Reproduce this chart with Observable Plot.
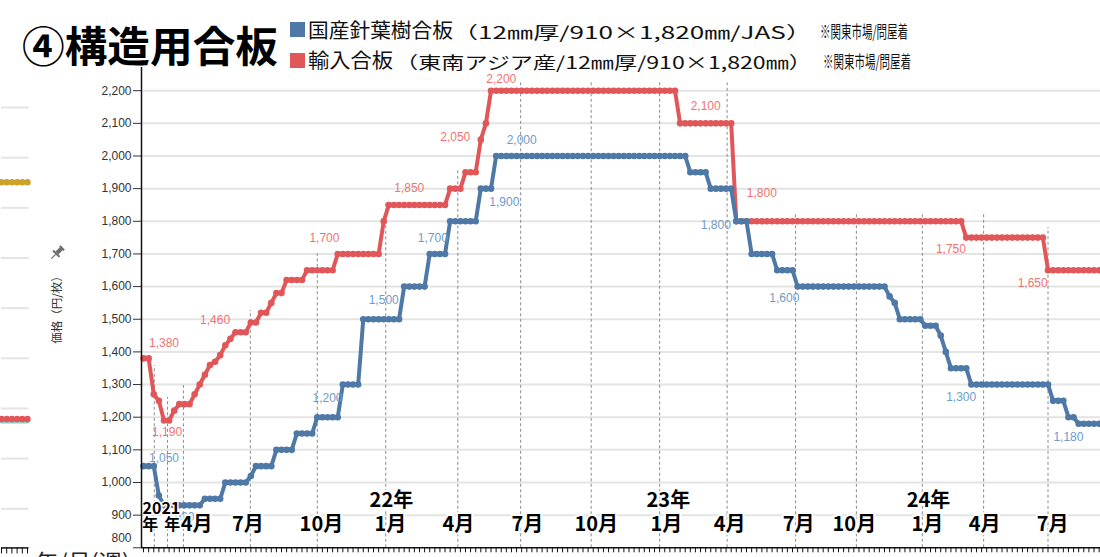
<!DOCTYPE html>
<html><head><meta charset="utf-8">
<script src="https://cdn.jsdelivr.net/npm/d3@7"></script>
<script src="https://cdn.jsdelivr.net/npm/@observablehq/plot@0.6"></script>
<style>
body{margin:0;background:#fff;font-family:"Noto Sans CJK JP","Noto Sans",sans-serif;}
#wrap{position:relative;width:1100px;height:557px;overflow:hidden;}
#wrap svg{position:absolute;left:0;top:0;}
.t{position:absolute;white-space:nowrap;transform-origin:0 50%;line-height:1;color:#111;}
.sq{position:absolute;width:15px;height:15px;}
</style></head><body><div id="wrap"></div>
<script>
// ---- data (weekly index) ----
const domestic = [
1050,1050,1050,960,930,930,930,930,930,930,930,930,950,950,950,950,1000,1000,1000,1000,
1000,1020,1050,1050,1050,1050,1100,1100,1100,1100,1150,1150,1150,1150,1200,1200,1200,1200,1200,1300,
1300,1300,1300,1500,1500,1500,1500,1500,1500,1500,1500,1600,1600,1600,1600,1600,1700,1700,1700,1700,
1800,1800,1800,1800,1800,1800,1900,1900,1900,2000,2000,2000,2000,2000,2000,2000,2000,2000,2000,2000,
2000,2000,2000,2000,2000,2000,2000,2000,2000,2000,2000,2000,2000,2000,2000,2000,2000,2000,2000,2000,
2000,2000,2000,2000,2000,2000,2000,1950,1950,1950,1950,1900,1900,1900,1900,1900,1800,1800,1800,1700,
1700,1700,1700,1700,1650,1650,1650,1650,1600,1600,1600,1600,1600,1600,1600,1600,1600,1600,1600,1600,
1600,1600,1600,1600,1600,1600,1570,1550,1500,1500,1500,1500,1500,1480,1480,1480,1450,1400,1350,1350,
1350,1350,1300,1300,1300,1300,1300,1300,1300,1300,1300,1300,1300,1300,1300,1300,1300,1300,1250,1250,
1250,1200,1200,1180,1180,1180,1180,1180];
const imported = [
1380,1380,1270,1250,1190,1190,1220,1240,1240,1240,1270,1300,1330,1360,1370,1390,1420,1440,1460,1460,
1460,1490,1490,1520,1520,1550,1580,1580,1620,1620,1620,1620,1650,1650,1650,1650,1650,1650,1700,1700,
1700,1700,1700,1700,1700,1700,1700,1800,1850,1850,1850,1850,1850,1850,1850,1850,1850,1850,1850,1850,
1900,1900,1900,1950,1950,1950,2050,2100,2200,2200,2200,2200,2200,2200,2200,2200,2200,2200,2200,2200,
2200,2200,2200,2200,2200,2200,2200,2200,2200,2200,2200,2200,2200,2200,2200,2200,2200,2200,2200,2200,
2200,2200,2200,2200,2200,2100,2100,2100,2100,2100,2100,2100,2100,2100,2100,2100,1800,1800,1800,1800,
1800,1800,1800,1800,1800,1800,1800,1800,1800,1800,1800,1800,1800,1800,1800,1800,1800,1800,1800,1800,
1800,1800,1800,1800,1800,1800,1800,1800,1800,1800,1800,1800,1800,1800,1800,1800,1800,1800,1800,1800,
1800,1750,1750,1750,1750,1750,1750,1750,1750,1750,1750,1750,1750,1750,1750,1750,1750,1650,1650,1650,
1650,1650,1650,1650,1650,1650,1650,1650];

const domesticLabelWeeks  = [4, 8, 36, 47, 57, 71, 74, 112, 125, 160, 181];
const domesticLabelValues = [1050, 930, 1200, 1500, 1700, 1900, 2000, 1800, 1600, 1300, 1180];
const importedLabelWeeks  = [4, 5, 14, 35, 52, 61, 70, 110, 121, 158, 174];
const importedLabelValues = [1380, 1190, 1460, 1700, 1850, 2050, 2200, 2100, 1800, 1750, 1650];

const guideWeeks = [2.1, 4.7, 7.8, 20.9, 34, 47.4, 61.5, 73.8, 87.6, 101, 114.2, 127.6, 139.5, 152.4, 164.4, 177];
const guideTops  = [1358, 1260, 1297, 1527, 1701, 1858, 1962, 2231, 2231, 2231, 2231, 1824, 1824, 1824, 1824, 1781];

const monthLabels = ["4月","7月","10月","1月","4月","7月","10月","1月","4月","7月","10月","1月","4月","7月"];
const monthWeeks  = [10.4, 20.4, 34.8, 48.3, 61.6, 75.1, 88.6, 102.3, 114.7, 128.2, 139.1, 153.4, 164.6, 177.9];
const yearLabels = ["22年","23年","24年"];
const yearWeeks  = [48.5, 102.7, 153.6];
const startYearLabel = "2021", startYearWeek = 3.5;
const startNenWeeks = [1.3, 5.6];

const yTicks = [800,900,1000,1100,1200,1300,1400,1500,1600,1700,1800,1900,2000,2100,2200];

// fragment of the neighbouring chart visible at the left edge (its own units)
const neighborGrid = [0, 1, 2, 3, 4, 5, 6, 7, 8];
const neighborSteps = [0, 1, 2, 3, 4, 5];
const neighborGold = [6.51, 6.51, 6.51, 6.51, 6.51, 6.51];
const neighborRed  = [1.79, 1.79, 1.79, 1.79, 1.79, 1.79];
const neighborTeal = [1.74, 1.74, 1.74, 1.74, 1.74, 1.74];

// ---- styles / offsets ----
const BLUE = "#4e79a7", RED = "#e15759", BLUE_LBL = "#6f9bcb", RED_LBL = "#ef7470";
const domesticLabelOffsets = [[0,-8],[0,12],[0,-19],[0,-19],[-2,-16],[-2,14],[0,-16],[0,4],[2,12],[0,13],[0,13]];
const importedLabelOffsets = [[0,-15],[-2,12],[0,-12],[2,-16],[0,-17],[0,-3],[0,-12],[0,-17],[0,-28],[0,12],[0,13]];

const fmt = d3.format(",");
const weeks = domestic.map((_, i) => i);
const domRows = domestic.map((value, week) => ({week, value}));
const impRows = imported.map((value, week) => ({week, value}));
const guideRows = guideWeeks.map((week, i) => ({week, top: guideTops[i]}));
const lastWeek = weeks.length - 1;

const CJK = "'Noto Sans CJK JP', sans-serif";
const labelMarks = (weeksArr, valuesArr, offsets, color) =>
  weeksArr.map((w, i) => Plot.text([{week: w, value: valuesArr[i]}], {
    x: "week", y: "value", text: d => fmt(d.value), dx: offsets[i][0], dy: offsets[i][1],
    fill: color, fontSize: 12, fontFamily: "Liberation Sans, Arial, sans-serif"
  }));

const axisText = (labels, ws, dy, size, halo) => Plot.text(labels.map((t, i) => ({t, week: ws[i]})), {
  x: "week", frameAnchor: "bottom", text: "t", dy, fontSize: size, fontWeight: "bold",
  fontFamily: CJK, fill: "#000", stroke: "#fff", strokeWidth: halo || 4
});

const wrap = document.getElementById("wrap");

// neighbour fragment
const frag = Plot.plot({
  width: 30, height: 557, margin: 0, marginTop: 0, marginBottom: 9.7,
  x: {domain: [0, 5], range: [1, 27], axis: null},
  y: {domain: [0, 8], range: [508.3, 107], axis: null},
  style: {background: "transparent", overflow: "visible"},
  marks: [
    Plot.ruleY(neighborGrid, {stroke: "#e4e4e4", strokeWidth: 2, x1: 0, x2: 5.3}),
    Plot.line(neighborSteps.map((s, i) => ({s, v: neighborTeal[i]})), {x: "s", y: "v", stroke: "#8fc9c2", strokeWidth: 4}),
    Plot.line(neighborSteps.map((s, i) => ({s, v: neighborRed[i]})), {x: "s", y: "v", stroke: "#e15759", strokeWidth: 4}),
    Plot.dot(neighborSteps.map((s, i) => ({s, v: neighborRed[i]})), {x: "s", y: "v", r: 3.2, fill: "#e15759"}),
    Plot.line(neighborSteps.map((s, i) => ({s, v: neighborGold[i]})), {x: "s", y: "v", stroke: "#c9a227", strokeWidth: 4}),
    Plot.dot(neighborSteps.map((s, i) => ({s, v: neighborGold[i]})), {x: "s", y: "v", r: 3.2, fill: "#c9a227"}),
    Plot.ruleY([-0.78], {stroke: "#111", strokeWidth: 1.5, x1: 0, x2: 5.3}),
    Plot.ruleX(neighborSteps, {x: d => d, y1: -0.78, y2: -0.9, stroke: "#111"})
  ]
});
wrap.appendChild(frag);

const chart = Plot.plot({
  width: 1100, height: 557,
  marginTop: 67, marginBottom: 9.7, marginLeft: 141, marginRight: 0,
  x: {domain: [-0.4, lastWeek], range: [141, 141 + (lastWeek + 0.4) * 5.11]},
  y: {domain: [800, 2271], range: [547.3, 67]},
  style: {fontFamily: "Liberation Sans, Arial, sans-serif", fontSize: "12px", background: "transparent", overflow: "visible"},
  marks: [
    Plot.ruleY(yTicks.filter(d => d > 800), {stroke: "#e4e4e4", strokeWidth: 2}),
    Plot.ruleX(guideRows, {x: "week", y1: 800, y2: "top", stroke: "#8a8a8a", strokeDasharray: "3,2.5", strokeWidth: 1}),
    Plot.line(impRows, {x: "week", y: "value", stroke: RED, strokeWidth: 4}),
    Plot.dot(impRows, {x: "week", y: "value", r: 3.3, fill: RED}),
    Plot.line(domRows, {x: "week", y: "value", stroke: BLUE, strokeWidth: 4}),
    Plot.dot(domRows, {x: "week", y: "value", r: 3.3, fill: BLUE}),
    ...labelMarks(importedLabelWeeks, importedLabelValues, importedLabelOffsets, RED_LBL),
    ...labelMarks(domesticLabelWeeks, domesticLabelValues, domesticLabelOffsets, BLUE_LBL),
    axisText(monthLabels, monthWeeks, -17, 20),
    axisText(yearLabels, yearWeeks, -41, 20),
    axisText([startYearLabel], [startYearWeek], -34, 16, 3),
    axisText(startNenWeeks.map(() => "年"), startNenWeeks, -18, 16, 3),
    Plot.ruleY([800], {stroke: "#111", strokeWidth: 1.5}),
    Plot.ruleX([-0.4], {y1: 800, y2: 2271, stroke: "#111", strokeWidth: 1.5}),
    Plot.axisY({ticks: yTicks, tickSize: 8, tickPadding: 2, color: "#333", fontSize: 12, label: null,
      tickFormat: d => d === 800 ? "" : fmt(d)}),
    Plot.text([800], {y: d => d, frameAnchor: "left", text: d => String(d), dx: -10, dy: -10,
      textAnchor: "end", fill: "#333", fontSize: 12}),
    Plot.axisX({ticks: weeks, tickSize: 5, tickFormat: () => "", color: "#111", label: null})
  ]
});
wrap.appendChild(chart);

// ---- title / legend overlays ----
function addText(txt, left, cy, size, width, weight, color) {
  const el = document.createElement("div");
  el.className = "t";
  el.textContent = txt;
  el.style.left = left + "px";
  el.style.top = (cy - size / 2) + "px";
  el.style.fontSize = size + "px";
  el.style.fontWeight = weight || 400;
  if (color) el.style.color = color;
  wrap.appendChild(el);
  const w = el.getBoundingClientRect().width;
  if (width && w > 0) el.style.transform = `scaleX(${width / w})`;
  return el;
}
function addSquare(left, top, color) {
  const el = document.createElement("div");
  el.className = "sq"; el.style.left = left + "px"; el.style.top = top + "px"; el.style.background = color;
  wrap.appendChild(el);
}
addText("④構造用合板", 22, 44, 42, 256, 700, "#000");
addSquare(290, 22, BLUE);
addSquare(290, 53, RED);
addText("国産針葉樹合板", 308, 30, 20, 145);
addText("（12㎜厚/910×1,820㎜/JAS）", 452, 31, 17, 360);
addText("※関東市場/問屋着", 820, 31, 16.5, 88);
addText("輸入合板", 308, 60, 20, 85);
addText("（東南アジア産/12㎜厚/910×1,820㎜）", 395, 61, 17, 417);
addText("※関東市場/問屋着", 823, 61, 16.5, 88);
addText("年/月(週)", 35, 560, 22, 95, 400, "#222");

// y-axis title
const yt = document.createElement("div");
yt.className = "t";
yt.textContent = "価格（円/枚）";
yt.style.fontSize = "11.5px";
yt.style.color = "#333";
yt.style.left = "51px"; yt.style.top = "307px";
yt.style.transformOrigin = "0 0";
wrap.appendChild(yt);
const ytw = yt.getBoundingClientRect().width;
yt.style.transform = `rotate(-90deg) translate(${-ytw / 2}px, 0px)`;

// pin icon
const pin = document.createElementNS("http://www.w3.org/2000/svg", "svg");
pin.setAttribute("width", "20"); pin.setAttribute("height", "20");
pin.style.left = "47px"; pin.style.top = "243px";
pin.innerHTML = '<g transform="rotate(45 10 10)" fill="#6b6b6b"><rect x="7" y="2" width="6" height="2"/><rect x="8" y="4" width="4" height="6"/><rect x="5.5" y="10" width="9" height="2"/><rect x="9.4" y="12" width="1.2" height="6"/></g>';
wrap.appendChild(pin);
</script></body></html>
